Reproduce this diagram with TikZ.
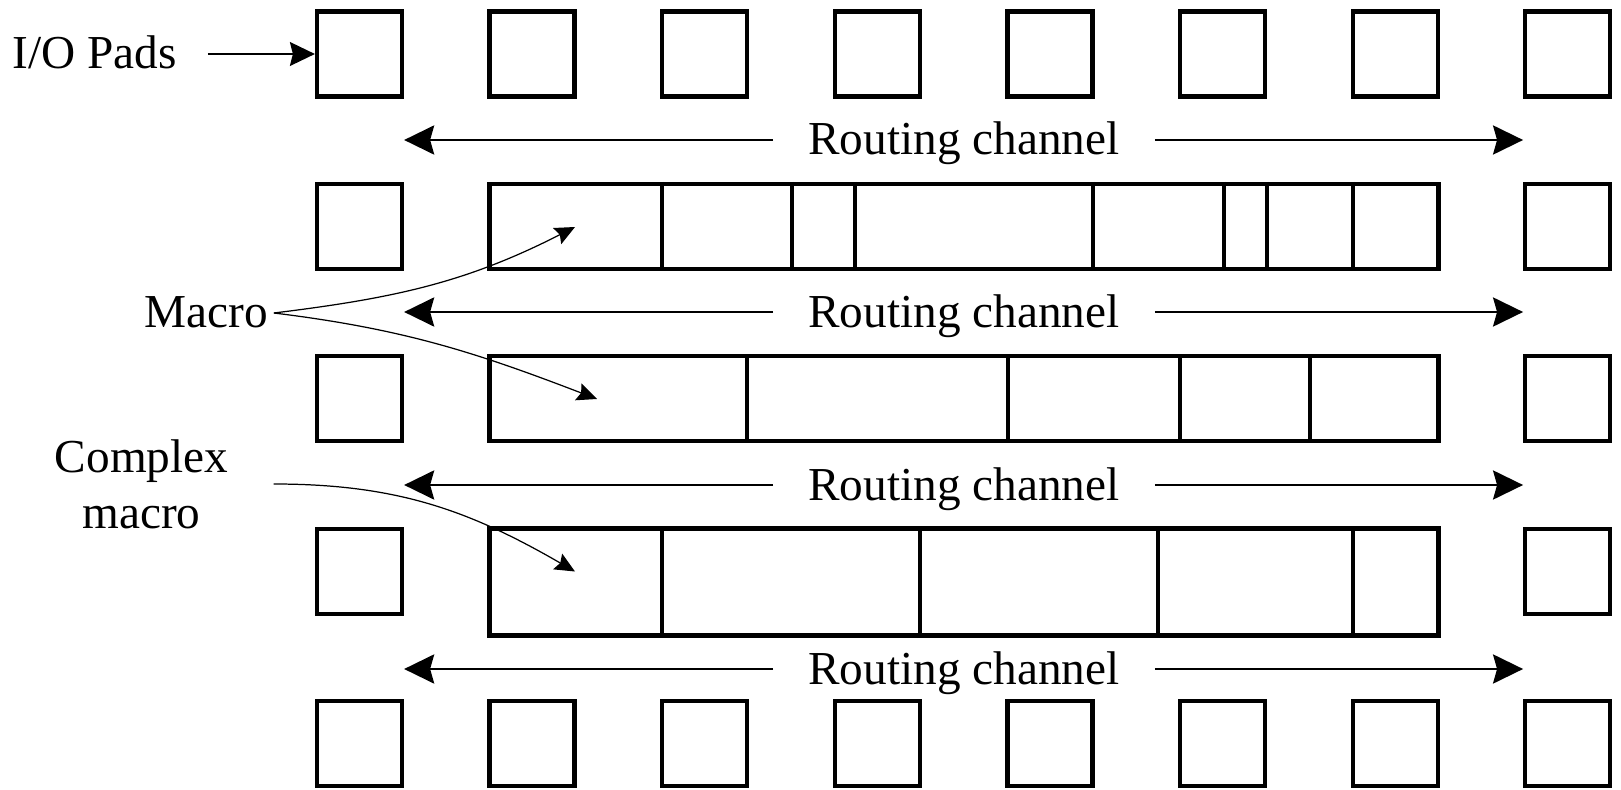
\documentclass[tikz,border=0pt]{standalone}
\usepackage{fontspec}
\setmainfont{Liberation Serif}
\usetikzlibrary{arrows.meta, positioning, calc}

\tikzset{
    pad/.style={draw, line width=2.4pt, minimum size=1.7cm, inner sep=0pt},
    macroblk/.style={draw, line width=2.4pt, minimum width=18.98cm, minimum height=1.7cm, inner sep=0pt},
    lbl/.style={text height=0.7cm, text depth=0.1cm},
    chan/.style={-{Stealth[length=0.6cm, width=0.58cm, inset=0.08cm]}, line width=1.7pt},
    pointer/.style={-{Stealth[length=0.4cm, width=0.36cm, inset=0.06cm]}, line width=0.7pt},
}

\begin{document}
\begin{tikzpicture}[font=\fontsize{26.9}{31.9}\selectfont]
    \useasboundingbox (0,0) rectangle (32.42,15.78);

    % I/O pads, top and bottom rows
    \foreach \i in {0,...,7} {
        \node[pad] (p-0-\i) at (7.19+3.452*\i, 14.70) {};
        \node[pad] (p-4-\i) at (7.19+3.452*\i, 0.908) {};
    }
    % I/O pads, left and right columns
    \foreach \j in {1,2,3} {
        \node[pad] (p-\j-0) at (7.19, 14.70-3.448*\j) {};
        \node[pad] (p-\j-7) at (31.354, 14.70-3.448*\j) {};
    }

    % macro rows
    \node[macroblk] (m-1) at (19.28, 11.252) {};
    \node[macroblk] (m-2) at (19.28, 7.804) {};
    \node[macroblk, minimum height=2.14cm] (m-3) at (19.28, 4.138) {};
    \foreach \x in {13.24, 15.84, 17.10, 21.86, 24.48, 25.34, 27.06}
        \draw[line width=2.4pt] (\x,0 |- m-1.north) -- (\x,0 |- m-1.south);
    \foreach \x in {14.94, 20.16, 23.60, 26.20}
        \draw[line width=2.4pt] (\x,0 |- m-2.north) -- (\x,0 |- m-2.south);
    \foreach \x in {13.24, 18.40, 23.16, 27.06}
        \draw[line width=2.4pt] (\x,0 |- m-3.north) -- (\x,0 |- m-3.south);

    % routing channels
    \foreach \k/\y in {1/12.98, 2/9.54, 3/6.08, 4/2.40} {
        \node[lbl, inner xsep=0.7cm] (rc-\k) at (19.28, \y) {Routing channel};
        \draw[chan] (rc-\k.west) -- (rc-\k.west -| p-0-0.east);
        \draw[chan] (rc-\k.east) -- (rc-\k.east -| p-0-7.west);
    }

    % labels
    \node[lbl, inner xsep=0.62cm] (io) at (1.89, 14.70) {I/O Pads};
    \draw[-{Stealth[length=0.5cm, width=0.48cm, inset=0.06cm]}, line width=0.85pt] (io.east) -- (p-0-0.west);

    \coordinate (tip-1) at (11.50, 11.24);
    \coordinate (tip-2) at (11.94, 7.80);
    \coordinate (tip-3) at (11.50, 4.35);

    \node[lbl] (mac) at (4.12, 9.52) {Macro};
    \draw[pointer] (mac.east) to[out=7, in=207] (tip-1);
    \draw[pointer] (mac.east) to[out=-7, in=159] (tip-2);

    \node[align=center, inner xsep=0.9cm] (cmx) at (2.83, 6.10) {Complex\\macro};
    \draw[pointer] (cmx.east) to[out=0, in=150] (tip-3);
\end{tikzpicture}
\end{document}
